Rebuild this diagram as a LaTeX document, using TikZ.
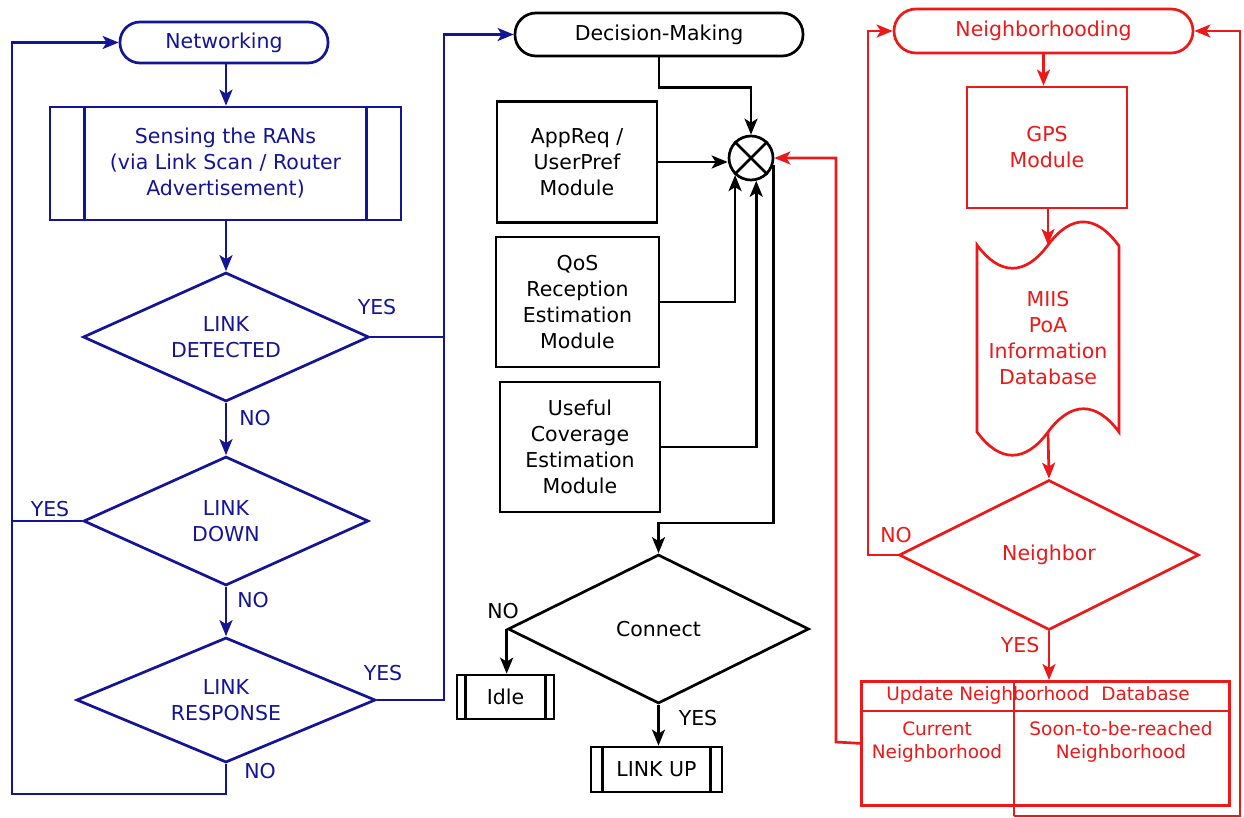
\documentclass[tikz,border=0pt]{standalone}
\usepackage{fontspec}
\setmainfont{DejaVu Sans}
\usetikzlibrary{shapes.geometric,arrows.meta,calc}
\definecolor{bluec}{RGB}{20,20,150}
\definecolor{redc}{RGB}{235,25,25}
\begin{document}
\begin{tikzpicture}[x=1pt,y=-1pt, line width=2.7pt, >={Stealth[length=16pt,width=13pt,inset=4pt]},
  every node/.style={font=\fontsize{20.5}{26}\selectfont, align=center, inner sep=0pt},
  term/.style={draw, rectangle},
  boxn/.style={draw, rectangle},
  dec/.style={draw, diamond, aspect=2.3},
  small/.style={font=\fontsize{18.5}{23}\selectfont}]
\fill[white] (0,0) rectangle (1244,817);
\useasboundingbox (0,0) rectangle (1244,817);

% ---------- blue column ----------
\node[term, bluec, minimum width=208pt, minimum height=41pt, rounded corners=20pt] (net) at (224,42.5) {Networking};
\node[boxn, bluec, minimum width=351pt, minimum height=113pt] (sense) at (225.5,163.5) {Sensing the RANs\\(via Link Scan / Router\\Advertisement)};
\draw[bluec] ([xshift=36pt]sense.north west) -- ([xshift=36pt]sense.south west);
\draw[bluec] ([xshift=-36pt]sense.north east) -- ([xshift=-36pt]sense.south east);
\node[dec, bluec, minimum width=286pt, minimum height=129pt] (d1) at (226,337) {LINK\\DETECTED};
\node[dec, bluec, minimum width=285pt, minimum height=129pt] (d2) at (226,521) {LINK\\DOWN};
\node[dec, bluec, minimum width=299pt, minimum height=125pt] (d3) at (226,700) {LINK\\RESPONSE};

\node[text=bluec] (y1) at (377,307) {YES};
\node[text=bluec] (n1) at (255,418) {NO};
\node[text=bluec] (y2) at (50,509) {YES};
\node[text=bluec] (n2) at (253,600) {NO};
\node[text=bluec] (y3) at (383,673) {YES};
\node[text=bluec] (n3) at (260,771) {NO};

% ---------- middle column ----------
\node[term, minimum width=288pt, minimum height=43pt, rounded corners=21pt] (dm) at (659,34.5) {Decision-Making};
\node[circle, draw, minimum size=44pt] (circ) at (751,158) {};
\draw (circ.45) -- (circ.-135) (circ.135) -- (circ.-45);
\node[boxn, minimum width=160pt, minimum height=121pt] (app) at (577,162) {AppReq /\\UserPref\\Module};
\node[boxn, minimum width=163pt, minimum height=130pt] (qos) at (577.5,302) {QoS\\Reception\\Estimation\\Module};
\node[boxn, minimum width=160pt, minimum height=130pt] (use) at (580,447) {Useful\\Coverage\\Estimation\\Module};
\node[dec, minimum width=301pt, minimum height=149pt] (conn) at (658.5,629) {Connect};
\node[boxn, minimum width=97pt, minimum height=44pt] (idle) at (505.5,697) {Idle};
\draw ([xshift=10pt]idle.north west) -- ([xshift=10pt]idle.south west);
\draw ([xshift=-10pt]idle.north east) -- ([xshift=-10pt]idle.south east);
\node[boxn, minimum width=131pt, minimum height=45pt] (lu) at (656.5,769.5) {LINK UP};
\draw ([xshift=13pt]lu.north west) -- ([xshift=13pt]lu.south west);
\draw ([xshift=-13pt]lu.north east) -- ([xshift=-13pt]lu.south east);
\node (n4) at (503,611) {NO};
\node (y4) at (698,718) {YES};

% ---------- red column ----------
\node[term, redc, minimum width=299pt, minimum height=44pt, rounded corners=22pt] (nb) at (1043.5,31) {Neighborhooding};
\node[boxn, redc, minimum width=160pt, minimum height=121pt] (gps) at (1047,147.5) {GPS\\Module};
\draw[redc] (977,245) .. controls (1000,276) and (1025,276) .. (1048,245)
  .. controls (1071,214) and (1096,214) .. (1119,246) -- (1119,432)
  .. controls (1096,401) and (1071,401) .. (1048,432)
  .. controls (1025,463) and (1000,463) .. (977,432) -- cycle;
\node[text=redc] (miis) at (1048,338) {MIIS\\PoA\\Information\\Database};
\coordinate (tapetop) at (1048,245);
\coordinate (tapebot) at (1048,432);
\node[dec, redc, minimum width=300pt, minimum height=150pt] (neigh) at (1049,555) {Neighbor};
\node[draw=redc, rectangle, minimum width=368pt, minimum height=124pt, anchor=north west] (tab) at (860,680) {};
\draw[redc] (860,711) -- (1228,711);
\coordinate (divtop) at (1014,680);
\coordinate (divbot) at (1014,816);
\draw[redc] (divtop) -- (divbot);
\node[small, text=redc] (hdr) at (1038,695.5) {Update Neighborhood\ \ Database};
\node[small, text=redc] (cur) at (937,742) {Current\\Neighborhood};
\node[small, text=redc] (soon) at (1121,742) {Soon-to-be-reached\\Neighborhood};
\node[text=redc] (n5) at (896,535) {NO};
\node[text=redc] (y5) at (1020,645) {YES};

% ---------- blue connectors ----------
\draw[bluec,->] (d1.north |- net.south) -- (d1.north |- sense.north);
\draw[bluec,->] (sense.south -| d1.north) -- (d1.north);
\draw[bluec,->] (d1.south) -- (d2.north);
\draw[bluec,->] (d2.south) -- (d3.north);
\coordinate (bus) at (444,34.5);
\draw[bluec,->] (d3.east) -| (bus) -- (dm.west);
\draw[bluec] (d1.east) -- (d1.east -| bus);
\coordinate (lb) at (12,794);
\draw[bluec,->] (d3.south) |- (lb) |- (net.west);
\draw[bluec] (d2.west) -- (d2.west -| lb);

% ---------- black connectors ----------
\draw[->] (dm.south) -- ++(0,30) -| (circ.north);
\draw[->] (app.east) -- (app.east -| circ.west);
\draw[->] (qos.east) -| (circ.-133);
\draw[->] (use.east) -| (circ.-77);
\coordinate (ct) at (772,523);
\draw[->] (circ.-17) -- (circ.-17 |- ct) -| (conn.north);
\draw[->] (conn.west) -- (conn.west |- idle.north);
\draw[->] (conn.south) -- (conn.south |- lu.north);

% ---------- red connectors ----------
\draw[redc,->] (nb.south) -- (nb.south |- gps.north);
\draw[redc,->] (gps.south -| tapetop) -- (tapetop);
\draw[redc,->] (tapebot) -- (neigh.north);
\draw[redc,->] (neigh.south) -- (neigh.south |- tab.north);
\coordinate (rl) at (868,31);
\draw[redc,->] (neigh.west) -| (rl) -- (nb.west);
\coordinate (rr) at (1240,816);
\draw[redc,->] (divbot) -- (rr) |- (nb.east);
\coordinate (cl) at (836,742);
\draw[redc,->] (tab.west) -- (cl) |- (circ.east);
\end{tikzpicture}
\end{document}
